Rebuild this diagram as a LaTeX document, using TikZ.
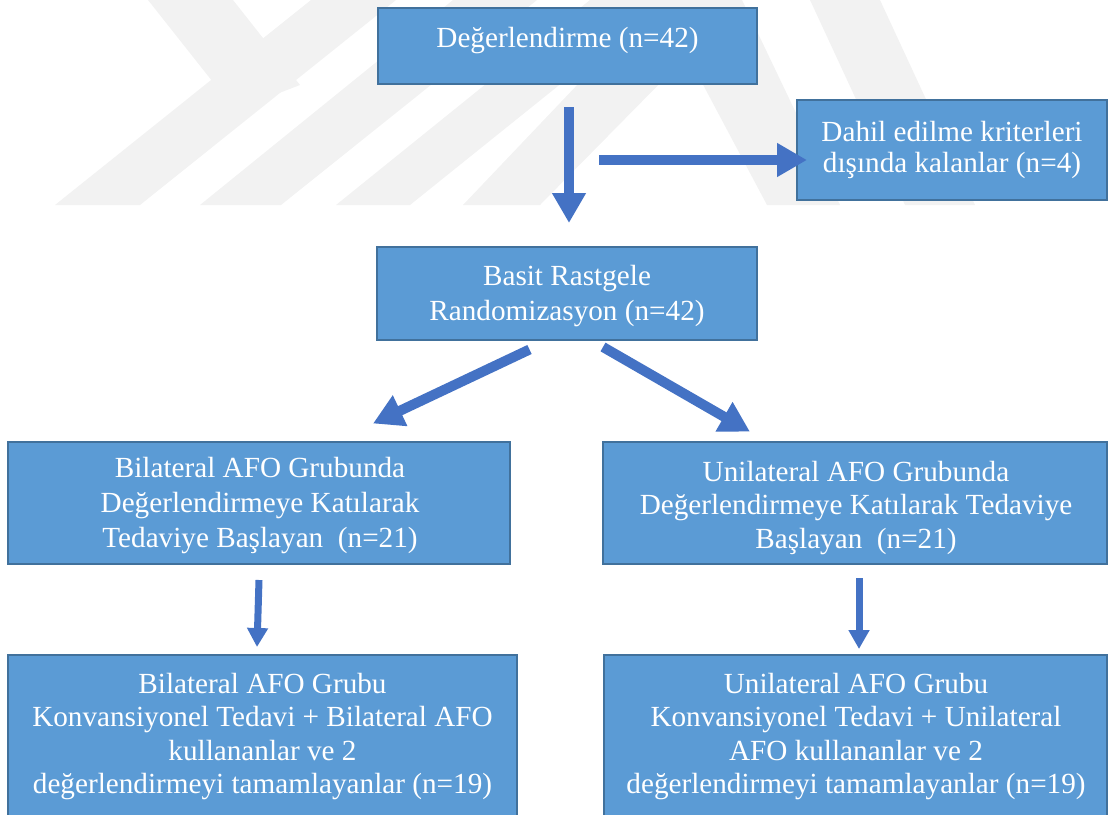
\documentclass[tikz,border=0pt]{standalone}
\usepackage{fontspec}
\setmainfont{Liberation Serif}
\usetikzlibrary{arrows.meta,fit}
\definecolor{boxfill}{HTML}{5B9BD5}
\definecolor{boxline}{HTML}{41719C}
\definecolor{arrowc}{HTML}{4472C4}
\definecolor{wm}{HTML}{F2F2F2}
\begin{document}
\begin{tikzpicture}[x=0.75pt,y=-0.75pt,
  box/.style={draw=boxline, line width=1.5pt, fill=boxfill, inner sep=0pt},
  txt/.style={text=white, align=center, inner sep=0pt, font=\fontsize{21.9}{26.25}\selectfont},
  txtB/.style={txt, font=\fontsize{21.9}{25}\selectfont},
  txtC/.style={txt, font=\fontsize{21.9}{23}\selectfont},
  bigarrow/.style={draw=arrowc, line width=7.5pt, -{Triangle[width=24pt,length=22.5pt]}},
  smallarrow/.style={draw=arrowc, line width=5.25pt, -{Triangle[width=15pt,length=14.25pt]}}
]
\useasboundingbox (0,0) rectangle (1109,814);
\clip (0,0) rectangle (1109,814);
% faint watermark
\fill[wm] (311,0) -- (396,0) -- (140,205) -- (55,205) -- cycle;
\fill[wm] (148,0) -- (233,0) -- (300,85) -- (235,110) -- cycle;
\fill[wm] (453,0) -- (537,0) -- (281,205) -- (200,205) -- cycle;
\fill[wm] (590,0) -- (665,0) -- (410,205) -- (336,205) -- cycle;
\fill[wm] (658,0) -- (742,0) -- (540,205) -- (463,205) -- cycle;
\fill[wm] (658,0) -- (742,0) -- (840,205) -- (767,205) -- cycle;
\fill[wm] (810,0) -- (880,0) -- (975,205) -- (905,205) -- cycle;

% boxes
\node[box, fit={(378,8) (757,84)}] (top) {};
\node[box, fit={(797,100) (1107,200)}] (excl) {};
\node[box, fit={(377,247) (757,340)}] (rand) {};
\node[box, fit={(8,442) (510,564)}] (bil) {};
\node[box, fit={(603,442) (1107,564)}] (uni) {};
\node[box, fit={(8,655) (517,840)}] (bilF) {};
\node[box, fit={(604,655) (1107,840)}] (uniF) {};

% texts
\node[txt] (topT) at (567.5,41) {Değerlendirme (n=42)};
\node[txtC] (exclT) at (952,150) {Dahil edilme kriterleri\\dışında kalanlar (n=4)};
\node[txt] (randT) at (567,295.7) {Basit Rastgele\\Randomizasyon (n=42)};
\node[txt] (bilT) at (260,506) {Bilateral AFO Grubunda\\Değerlendirmeye Katılarak\\Tedaviye Başlayan\ \ (n=21)};
\node[txtB] (uniT) at (856,508) {Unilateral AFO Grubunda\\Değerlendirmeye Katılarak Tedaviye\\Başlayan\ \ (n=21)};
\node[txtB] (bilFT) at (262.5,736.5) {Bilateral AFO Grubu\\Konvansiyonel Tedavi + Bilateral AFO\\kullananlar ve 2\\değerlendirmeyi tamamlayanlar (n=19)};
\node[txtB] (uniFT) at (856,736.5) {Unilateral AFO Grubu\\Konvansiyonel Tedavi + Unilateral\\AFO kullananlar ve 2\\değerlendirmeyi tamamlayanlar (n=19)};

% arrow end points
\coordinate (d1s) at (569,107);
\coordinate (d1e) at (569,223);
\coordinate (r1s) at (599,160);
\coordinate (r1e) at (807,160);
\coordinate (l2s) at (529.5,349.5);
\coordinate (l2e) at (373,423.5);
\coordinate (r2s) at (603,347);
\coordinate (r2e) at (750,431.7);
\coordinate (l3s) at (259,580);
\coordinate (l3e) at (257,647);
\coordinate (r3s) at (859,578);
\coordinate (r3e) at (859,649);

\draw[bigarrow] (d1s) -- (d1e);
\draw[bigarrow] (r1s) -- (r1e);
\draw[bigarrow] (l2s) -- (l2e);
\draw[bigarrow] (r2s) -- (r2e);
\draw[smallarrow] (l3s) -- (l3e);
\draw[smallarrow] (r3s) -- (r3e);
\end{tikzpicture}
\end{document}
